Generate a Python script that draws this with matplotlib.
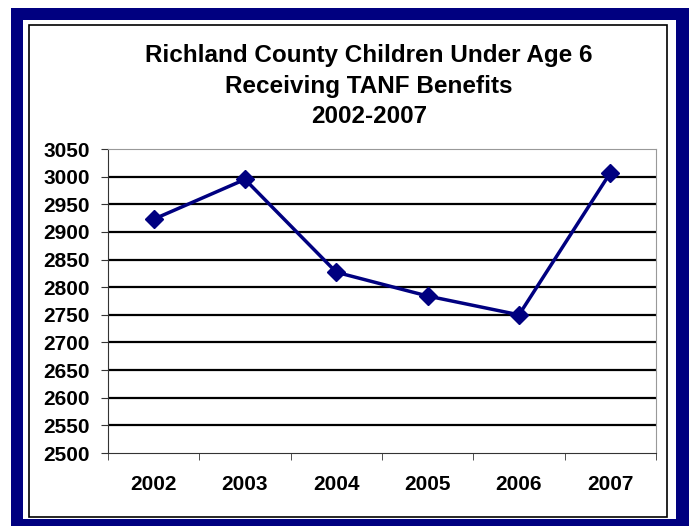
import matplotlib.pyplot as plt
from matplotlib.patches import Rectangle

plt.rcParams['font.family'] = ['Liberation Sans', 'DejaVu Sans']

years = ['2002', '2003', '2004', '2005', '2006', '2007']
children = [2923, 2995, 2827, 2784, 2750, 3007]
yticks = list(range(2500, 3051, 50))

W, H = 689, 526
fig = plt.figure(figsize=(W / 100, H / 100), dpi=100)

# navy frame, white panel, thin black border (pixel coords from top-left)
def box(x0, y0, x1, y1, **kw):
    fig.patches.append(Rectangle((x0 / W, 1 - y1 / H), (x1 - x0) / W, (y1 - y0) / H,
                                 transform=fig.transFigure, zorder=0, **kw))

box(11, 8, 700, 540, facecolor='#000080', edgecolor='none')
box(23, 20, 676, 519, facecolor='white', edgecolor='none')
box(29, 25, 667, 517, facecolor='none', edgecolor='black', lw=1.2)

ax = fig.add_axes([108 / W, 1 - 453 / H, (656 - 108) / W, (453 - 149) / H])
ax.set_zorder(5)
x = range(len(years))
ax.plot(x, children, color='#000080', lw=2.5, marker='D', ms=9, zorder=3)

ax.set_xlim(-0.5, len(years) - 0.5)
ax.set_ylim(2500, 3050)
ax.set_yticks(yticks)
ax.set_yticklabels([str(t) for t in yticks], fontsize=15, fontweight='bold')
ax.set_xticks(x)
ax.set_xticklabels(years, fontsize=15, fontweight='bold')
ax.set_xticks([i - 0.5 for i in range(len(years) + 1)], minor=True)
ax.tick_params(axis='x', which='major', length=0, pad=16)
ax.tick_params(axis='x', which='minor', length=5, direction='out', color='#333333')
ax.tick_params(axis='y', length=5, direction='out', color='#333333', pad=8)

for t in yticks[1:-1]:
    ax.axhline(t, color='black', lw=1.6, zorder=1)

ax.spines['top'].set_color('#999999')
ax.spines['right'].set_color('#999999')
ax.spines['left'].set_color('#333333')
ax.spines['bottom'].set_color('#333333')

fig.text(369 / W, 1 - 86 / H,
         'Richland County Children Under Age 6\nReceiving TANF Benefits\n2002-2007',
         ha='center', va='center', fontsize=17.5, fontweight='bold', linespacing=1.4)

fig.savefig('out.png', dpi=100)
